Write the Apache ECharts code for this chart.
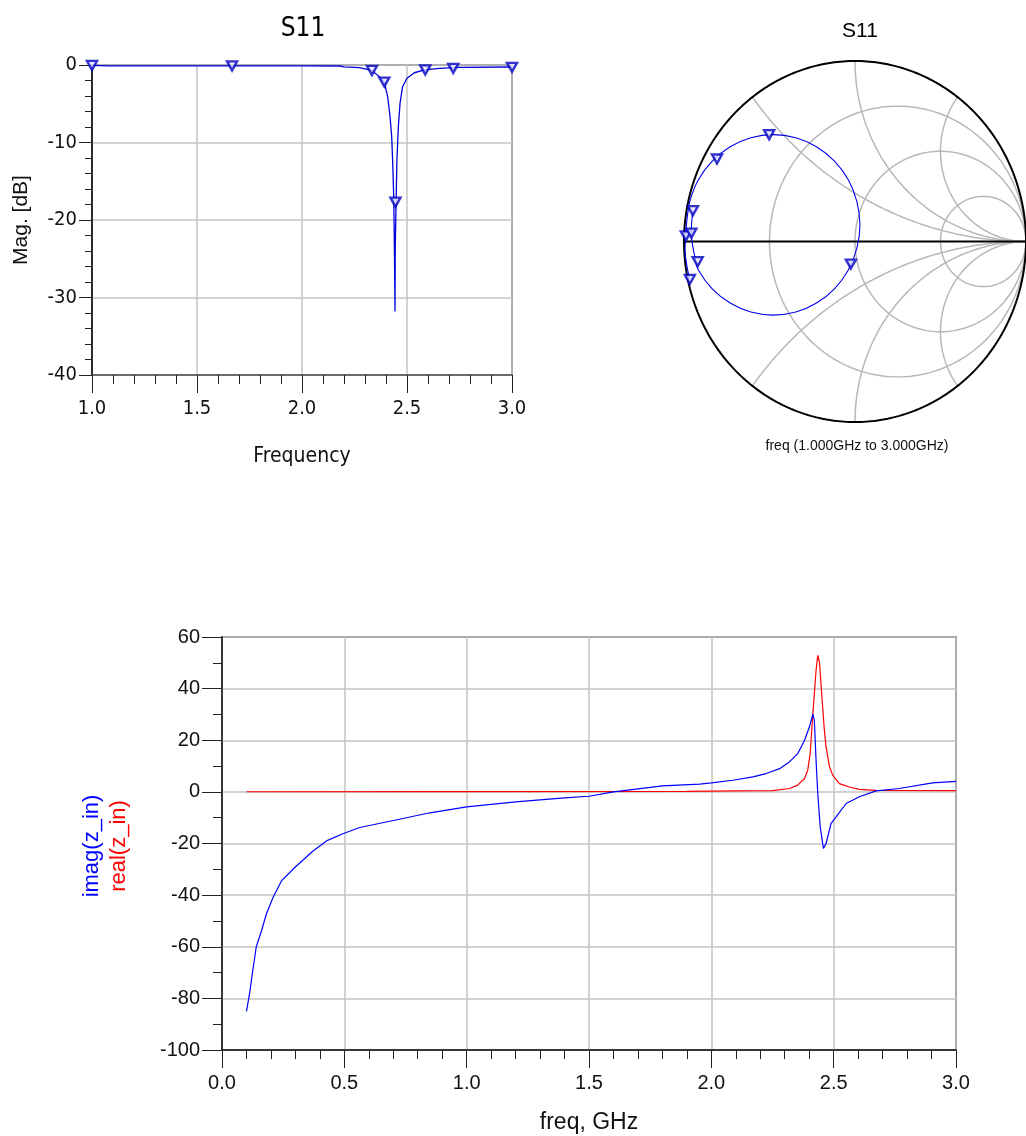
<!DOCTYPE html>
<html><head><meta charset="utf-8">
<script src="https://cdn.jsdelivr.net/npm/echarts@6/dist/echarts.min.js"></script>
<style>html,body{margin:0;padding:0;background:#fff}#c{width:1026px;height:1136px}</style>
</head><body><div id="c"></div>
<script>
// ---------- S11 magnitude plot (GHz, dB) ----------
const magXTicks = [1.0, 1.5, 2.0, 2.5, 3.0];
const magYTicks = [-40, -30, -20, -10, 0];
const s11Freq = [1.0, 1.08, 1.5, 2.0, 2.18, 2.2, 2.273, 2.333, 2.368, 2.392, 2.408, 2.419, 2.427, 2.432, 2.437, 2.440, 2.443, 2.444, 2.448, 2.452, 2.459, 2.467, 2.479, 2.5, 2.535, 2.583, 2.654, 2.749, 3.0];
const s11Db   = [-0.05, -0.12, -0.12, -0.12, -0.13, -0.25, -0.34, -0.7, -1.5, -2.2, -4.1, -6.6, -9.2, -12.6, -17.3, -23.7, -31.8, -23.7, -17.7, -12.2, -7.9, -4.9, -2.8, -1.7, -1.0, -0.64, -0.43, -0.3, -0.26];
const s11MarkerFreq = [1.0, 1.667, 2.333, 2.392, 2.445, 2.587, 2.72, 3.0];
const s11MarkerDb   = [-0.05, -0.12, -0.7, -2.2, -17.7, -0.64, -0.43, -0.3];

// ---------- S11 Smith chart (reflection coefficient) ----------
const smithRe = [-0.966, -0.984, -0.994, -0.989, -0.985, -0.976, -0.964, -0.916, -0.835, -0.730, -0.609, -0.478, -0.346, -0.225, -0.120, -0.039, 0.011, 0.029, 0.011, -0.039, -0.120, -0.225, -0.346, -0.478, -0.609, -0.730, -0.835, -0.916, -0.935, -0.950, -0.957, -0.955, -0.948];
const smithIm = [-0.210, -0.130, -0.040, 0.031, 0.100, 0.170, 0.230, 0.342, 0.445, 0.525, 0.575, 0.592, 0.575, 0.525, 0.445, 0.342, 0.221, 0.092, -0.037, -0.158, -0.262, -0.341, -0.391, -0.408, -0.391, -0.341, -0.262, -0.158, -0.090, -0.020, 0.046, 0.110, 0.171];
const smithMarkerRe = [-0.966, -0.989, -0.807, -0.502, -0.024, -0.920, -0.957, -0.948];
const smithMarkerIm = [-0.210, 0.031, 0.457, 0.592, -0.125, -0.112, 0.046, 0.171];
const smithResistance = [1/3, 1, 3];
const smithReactance = [0.5, 1, 2];

// ---------- z_in plot (GHz, ohm) ----------
const zXTicks = [0.0, 0.5, 1.0, 1.5, 2.0, 2.5, 3.0];
const zYTicks = [-100, -80, -60, -40, -20, 0, 20, 40, 60];
const imagFreq = [0.100, 0.102, 0.113, 0.120, 0.140, 0.161, 0.181, 0.208, 0.243, 0.304, 0.372, 0.427, 0.494, 0.563, 0.73, 0.85, 1.0, 1.2, 1.4, 1.5, 1.6, 1.8, 1.952, 2.0, 2.088, 2.17, 2.224, 2.279, 2.319, 2.353, 2.381, 2.401, 2.415, 2.421, 2.428, 2.435, 2.445, 2.458, 2.469, 2.489, 2.51, 2.551, 2.605, 2.673, 2.768, 2.904, 3.0];
const imagVal  = [-85, -84, -78, -73, -60, -54, -47.4, -41, -34.5, -28.7, -22.9, -19, -16.2, -13.8, -10.5, -8.1, -5.8, -3.9, -2.3, -1.7, 0.0, 2.3, 3.0, 3.5, 4.5, 5.8, 7.1, 9.0, 11.6, 14.8, 20, 25.2, 30.1, 27.7, 12.3, -0.6, -13.5, -21.9, -20, -12.3, -9.7, -4.5, -1.9, 0.4, 1.3, 3.5, 4.1];
const realFreq = [0.1, 1.0, 1.9, 2.1, 2.25, 2.32, 2.353, 2.381, 2.394, 2.404, 2.415, 2.428, 2.435, 2.442, 2.449, 2.455, 2.462, 2.469, 2.483, 2.496, 2.523, 2.564, 2.605, 2.673, 3.0];
const realVal  = [0.05, 0.1, 0.2, 0.4, 0.5, 1.3, 2.6, 5.2, 8.4, 14.8, 30.3, 47, 52.9, 50.3, 40.6, 32.9, 23.9, 17.4, 9.7, 6.5, 3.2, 1.9, 1.0, 0.6, 0.5];

const NARROW = "'Liberation Sans Narrow', 'DejaVu Sans Condensed', 'Arial Narrow', sans-serif";
const SANS = "'Liberation Sans', Arial, sans-serif";
const GRID_GRAY = '#c4c4c4';
const zip = (a, b) => a.map((v, i) => [v, b[i]]);

// Smith chart grid curves (chart furniture)
function arc(cx, cy, r, a0, a1, n) {
  const pts = [];
  for (let i = 0; i <= n; i++) {
    const a = a0 + (a1 - a0) * i / n;
    pts.push([cx + r * Math.cos(a), cy + r * Math.sin(a)]);
  }
  return pts;
}
const smithGridCurves = [];
smithResistance.forEach(r => smithGridCurves.push(arc(r / (1 + r), 0, 1 / (1 + r), 0, 2 * Math.PI, 180)));
smithReactance.forEach(x => {
  let end = Math.atan2(x * x - 1, -2 * x);
  if (end > -Math.PI / 2) end -= 2 * Math.PI;
  const up = arc(1, 1 / x, 1 / x, -Math.PI / 2, end, 160);
  smithGridCurves.push(up);
  smithGridCurves.push(up.map(p => [p[0], -p[1]]));
});

const gridSeries = smithGridCurves.map(d => ({
  type: 'line', xAxisIndex: 1, yAxisIndex: 1, data: d, showSymbol: false, silent: true,
  lineStyle: { color: '#b8b8b8', width: 1.5 }, z: 1
}));

const chart = echarts.init(document.getElementById('c'), null, { renderer: 'canvas' });
const markerStyle = { color: '#e8e8ff', borderColor: '#0000c0', borderWidth: 2.4 };

chart.setOption({
  animation: false,
  backgroundColor: '#ffffff',
  grid: [
    { left: 92, top: 65, width: 420, height: 310, show: true, borderColor: '#444', borderWidth: 1.5 },
    { left: 684, top: 61, width: 356, height: 361 },
    { left: 222, top: 637, width: 734, height: 413, show: true, borderColor: '#333', borderWidth: 1.5 }
  ],
  xAxis: [
    {
      gridIndex: 0, type: 'value', min: magXTicks[0], max: magXTicks[magXTicks.length - 1], interval: magXTicks[1] - magXTicks[0],
      axisLine: { onZero: false, lineStyle: { color: '#555', width: 1.5 } },
      axisTick: { length: 18, lineStyle: { color: '#222' } },
      minorTick: { show: true, splitNumber: 5, length: 9, lineStyle: { color: '#222' } },
      splitLine: { show: true, lineStyle: { color: GRID_GRAY, width: 1.5 } },
      axisLabel: { formatter: v => v.toFixed(1), fontFamily: NARROW, fontSize: 20, color: '#111', margin: 24 },
      name: 'Frequency', nameLocation: 'middle', nameGap: 71,
      nameTextStyle: { fontFamily: NARROW, fontSize: 21, color: '#111' }
    },
    { gridIndex: 1, type: 'value', min: -1, max: 1, show: false },
    {
      gridIndex: 2, type: 'value', min: zXTicks[0], max: zXTicks[zXTicks.length - 1], interval: zXTicks[1] - zXTicks[0],
      axisLine: { onZero: false, lineStyle: { color: '#111', width: 1.5 } },
      axisTick: { length: 18, lineStyle: { color: '#222' } },
      minorTick: { show: true, splitNumber: 5, length: 9, lineStyle: { color: '#222' } },
      splitLine: { show: true, lineStyle: { color: GRID_GRAY, width: 1.5 } },
      axisLabel: { formatter: v => v.toFixed(1), fontFamily: SANS, fontSize: 20, color: '#111', margin: 23 },
      name: 'freq, GHz', nameLocation: 'middle', nameGap: 61,
      nameTextStyle: { fontFamily: SANS, fontSize: 23, color: '#111' }
    }
  ],
  yAxis: [
    {
      gridIndex: 0, type: 'value', min: magYTicks[0], max: magYTicks[magYTicks.length - 1], interval: magYTicks[1] - magYTicks[0],
      axisLine: { onZero: false, lineStyle: { color: '#000', width: 1.5 } },
      axisTick: { length: 13, lineStyle: { color: '#222' } },
      minorTick: { show: true, splitNumber: 5, length: 7, lineStyle: { color: '#222' } },
      splitLine: { show: true, lineStyle: { color: GRID_GRAY, width: 1.5 } },
      axisLabel: { fontFamily: NARROW, fontSize: 20, color: '#111', margin: 15 },
      name: 'Mag. [dB]', nameLocation: 'middle', nameRotate: 90, nameGap: 60,
      nameTextStyle: { fontFamily: SANS, fontSize: 21, color: '#111' }
    },
    { gridIndex: 1, type: 'value', min: -1, max: 1, show: false },
    {
      gridIndex: 2, type: 'value', min: zYTicks[0], max: zYTicks[zYTicks.length - 1], interval: zYTicks[1] - zYTicks[0],
      axisLine: { onZero: false, lineStyle: { color: '#111', width: 1.5 } },
      axisTick: { length: 20, lineStyle: { color: '#222' } },
      minorTick: { show: true, splitNumber: 2, length: 9, lineStyle: { color: '#222' } },
      splitLine: { show: true, lineStyle: { color: GRID_GRAY, width: 1.5 } },
      axisLabel: { fontFamily: SANS, fontSize: 20, color: '#111', margin: 22 }
    }
  ],
  graphic: [
    { type: 'text', x: 303, y: 29, style: { text: 'S11', fontFamily: NARROW, fontSize: 26, fill: '#000', textAlign: 'center', textVerticalAlign: 'middle' } },
    { type: 'text', x: 860, y: 31, style: { text: 'S11', fontFamily: SANS, fontSize: 21, fill: '#000', textAlign: 'center', textVerticalAlign: 'middle' } },
    { type: 'text', x: 857, y: 446, style: { text: 'freq (1.000GHz to 3.000GHz)', fontFamily: SANS, fontSize: 14, fill: '#111', textAlign: 'center', textVerticalAlign: 'middle' } },
    { type: 'text', x: 92, y: 846, rotation: Math.PI / 2, style: { text: 'imag(z_in)', fontFamily: SANS, fontSize: 22, fill: '#0000ff', textAlign: 'center', textVerticalAlign: 'middle' } },
    { type: 'text', x: 119, y: 846, rotation: Math.PI / 2, style: { text: 'real(z_in)', fontFamily: SANS, fontSize: 22, fill: '#ff0000', textAlign: 'center', textVerticalAlign: 'middle' } }
  ],
  series: [
    // magnitude plot
    { type: 'line', xAxisIndex: 0, yAxisIndex: 0, data: zip(s11Freq, s11Db), showSymbol: false, lineStyle: { color: '#0000dd', width: 1.3 }, z: 3 },
    { type: 'scatter', xAxisIndex: 0, yAxisIndex: 0, data: zip(s11MarkerFreq, s11MarkerDb), symbol: 'triangle', symbolRotate: 180, symbolSize: [10, 9], itemStyle: markerStyle, z: 4 },
    // Smith chart
    ...gridSeries,
    { type: 'line', xAxisIndex: 1, yAxisIndex: 1, data: arc(0, 0, 1, 0, 2 * Math.PI, 360), showSymbol: false, silent: true, lineStyle: { color: '#000', width: 2 }, z: 2 },
    { type: 'line', xAxisIndex: 1, yAxisIndex: 1, data: [[-1, 0], [1, 0]], showSymbol: false, silent: true, lineStyle: { color: '#000', width: 2 }, z: 2 },
    { type: 'line', xAxisIndex: 1, yAxisIndex: 1, data: zip(smithRe, smithIm), smooth: 0.4, showSymbol: false, lineStyle: { color: '#0000ee', width: 1.1 }, z: 3 },
    { type: 'scatter', xAxisIndex: 1, yAxisIndex: 1, data: zip(smithMarkerRe, smithMarkerIm), symbol: 'triangle', symbolRotate: 180, symbolSize: [10, 9], itemStyle: markerStyle, z: 4 },
    // z_in plot
    { type: 'line', xAxisIndex: 2, yAxisIndex: 2, data: zip(realFreq, realVal), showSymbol: false, lineStyle: { color: '#ff0000', width: 1.2 }, z: 3 },
    { type: 'line', xAxisIndex: 2, yAxisIndex: 2, data: zip(imagFreq, imagVal), showSymbol: false, lineStyle: { color: '#0000ff', width: 1.2 }, z: 3 }
  ]
});
</script></body></html>
